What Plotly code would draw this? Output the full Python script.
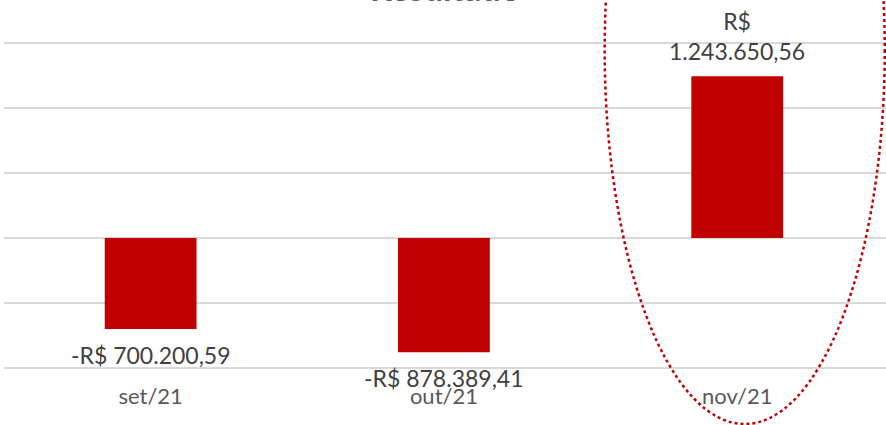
import plotly.graph_objects as go

# Monthly result (R$)
categories = ["set/21", "out/21", "nov/21"]
resultado = [-700200.59, -878389.41, 1243650.56]
highlight = "nov/21"

BAR_RED = "#C00000"
FONT = "Lato"


def brl(v, wrap=False):
    """Format a value as Brazilian currency, e.g. -R$ 700.200,59."""
    s = f"{abs(v):,.2f}".replace(",", "X").replace(".", ",").replace("X", ".")
    sep = "<br>" if wrap else " "
    return ("-R$" if v < 0 else "R$") + sep + s


fig = go.Figure()
fig.add_trace(go.Bar(
    x=categories,
    y=resultado,
    width=0.313,
    marker=dict(color=BAR_RED, line=dict(width=0)),
    hoverinfo="skip",
))

# value labels just beyond the end of each bar
annotations = []
for cat, v in zip(categories, resultado):
    annotations.append(dict(
        x=cat, y=v, xref="x", yref="y",
        text=brl(v, wrap=v >= 0),
        showarrow=False,
        yanchor="bottom" if v >= 0 else "top",
        yshift=9 if v >= 0 else -10,
        font=dict(family=FONT, size=23, color="#404040"),
    ))

# chart title, partly above the top edge
annotations.append(dict(
    x=0.5, y=1.0, xref="paper", yref="paper",
    text="<b>Resultado</b>", showarrow=False,
    yanchor="bottom", yshift=-10,
    font=dict(family=FONT, size=34, color="#595959"),
))

# dotted ellipse highlighting the latest month
hi = categories.index(highlight)
shapes = [dict(
    type="circle", xref="x", yref="y",
    x0=hi - 0.452, x1=hi + 0.503,
    y0=-1430769, y1=4323077,
    line=dict(color=BAR_RED, width=2.5, dash="dot"),
    fillcolor="rgba(0,0,0,0)",
    layer="above",
)]

fig.update_layout(
    width=886, height=425,
    margin=dict(l=4, r=0, t=0, b=0),
    paper_bgcolor="white", plot_bgcolor="white",
    showlegend=False,
    annotations=annotations,
    shapes=shapes,
    font=dict(family=FONT, color="#595959"),
    xaxis=dict(
        type="category",
        anchor="free", position=0.103,
        showline=False, showgrid=False, zeroline=False,
        ticks="",
        tickfont=dict(family=FONT, size=22, color="#595959"),
    ),
    yaxis=dict(
        range=[-1438461.5, 1830769.2],
        tick0=0, dtick=500000,
        showticklabels=False,
        showgrid=True, gridcolor="#d9d9d9", gridwidth=1.5,
        zeroline=True, zerolinecolor="#d9d9d9", zerolinewidth=1.5,
        showline=False,
    ),
)

fig.write_html("out.html")
